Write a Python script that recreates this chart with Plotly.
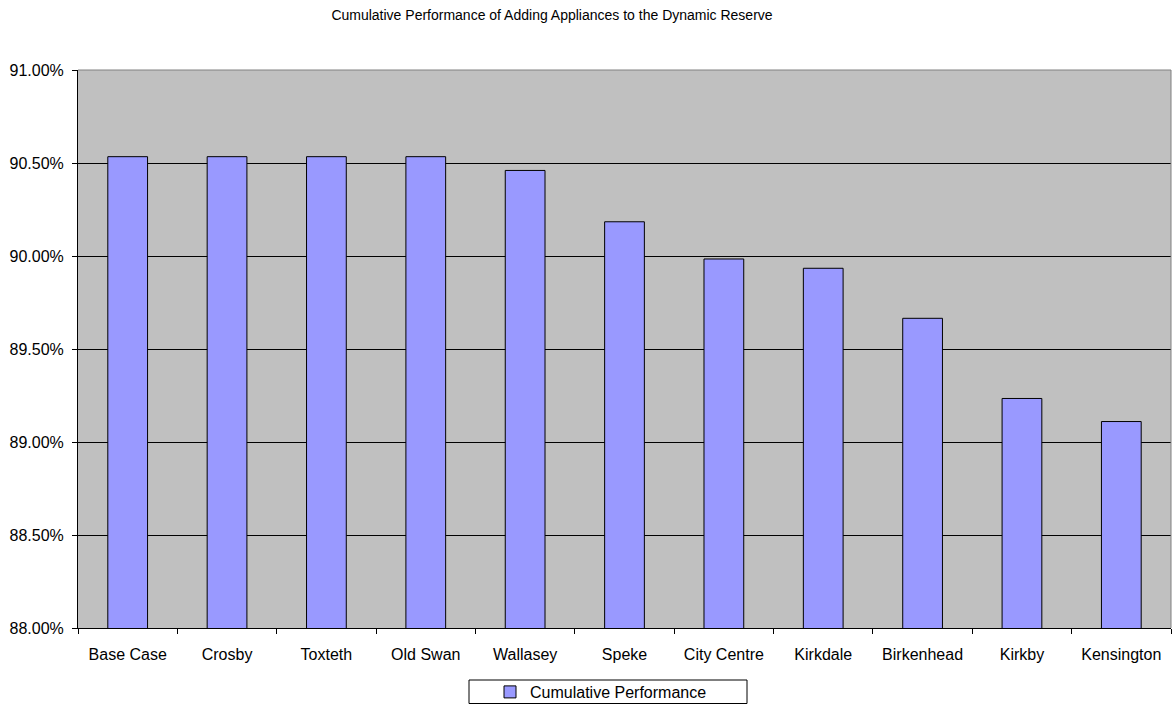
import plotly.graph_objects as go

categories = ["Base Case", "Crosby", "Toxteth", "Old Swan", "Wallasey", "Speke",
              "City Centre", "Kirkdale", "Birkenhead", "Kirkby", "Kensington"]
performance = [90.534, 90.534, 90.534, 90.534, 90.460, 90.184,
               89.984, 89.934, 89.665, 89.234, 89.110]
series_name = "Cumulative Performance"
title_text = "Cumulative Performance of Adding Appliances to the Dynamic Reserve"

W, H = 1173, 704
L, R, T, B = 78, 2, 70, 76
pw, ph = W - L - R, H - T - B

def px_x(x):
    return (x - L) / pw

def px_y(y):
    return (H - B - y) / ph

font = "Liberation Sans, Arial, sans-serif"

fig = go.Figure()
fig.add_trace(go.Bar(
    x=categories, y=performance, name=series_name,
    marker=dict(color="#9999FF", line=dict(color="black", width=1)),
    showlegend=True,
))

fig.update_layout(
    width=W, height=H,
    margin=dict(l=L, r=R, t=T, b=B, autoexpand=False),
    paper_bgcolor="white",
    plot_bgcolor="#C0C0C0",
    font=dict(family=font, size=16, color="black"),
    bargap=0.6,
    title=dict(text=title_text, font=dict(size=14, family=font, color="black"),
               x=552 / W, xanchor="center", xref="container",
               y=1 - 15 / H, yanchor="middle", yref="container"),
    showlegend=True,
    legend=dict(orientation="h", x=px_x(601), xanchor="center",
                y=px_y(692), yanchor="middle",
                font=dict(size=16, family=font), bgcolor="rgba(0,0,0,0)",
                borderwidth=0, itemwidth=30),
    xaxis=dict(type="category", showline=True, linecolor="black", linewidth=1,
               ticks="outside", ticklen=5, tickcolor="black", tickson="boundaries",
               showgrid=False, tickfont=dict(size=16), automargin=False,
               ticklabelstandoff=12),
    yaxis=dict(range=[88, 91], dtick=0.5, tick0=88, tickformat=".2f", ticksuffix="%",
               showline=True, linecolor="black", linewidth=1,
               ticks="outside", ticklen=5, tickcolor="black",
               showgrid=True, gridcolor="black", gridwidth=1,
               zeroline=False, tickfont=dict(size=16), automargin=False,
               ticklabelstandoff=5),
    shapes=[
        dict(type="line", xref="paper", yref="paper", x0=0, x1=1, y0=1, y1=1,
             line=dict(color="#808080", width=1), layer="above"),
        dict(type="line", xref="paper", yref="paper", x0=1, x1=1, y0=0, y1=1,
             line=dict(color="#808080", width=1), layer="above"),
        dict(type="rect", xref="paper", yref="paper",
             x0=px_x(469), x1=px_x(747), y0=px_y(703.5), y1=px_y(680),
             line=dict(color="black", width=1), fillcolor="rgba(0,0,0,0)"),
    ],
)

fig.write_html("out.html")
